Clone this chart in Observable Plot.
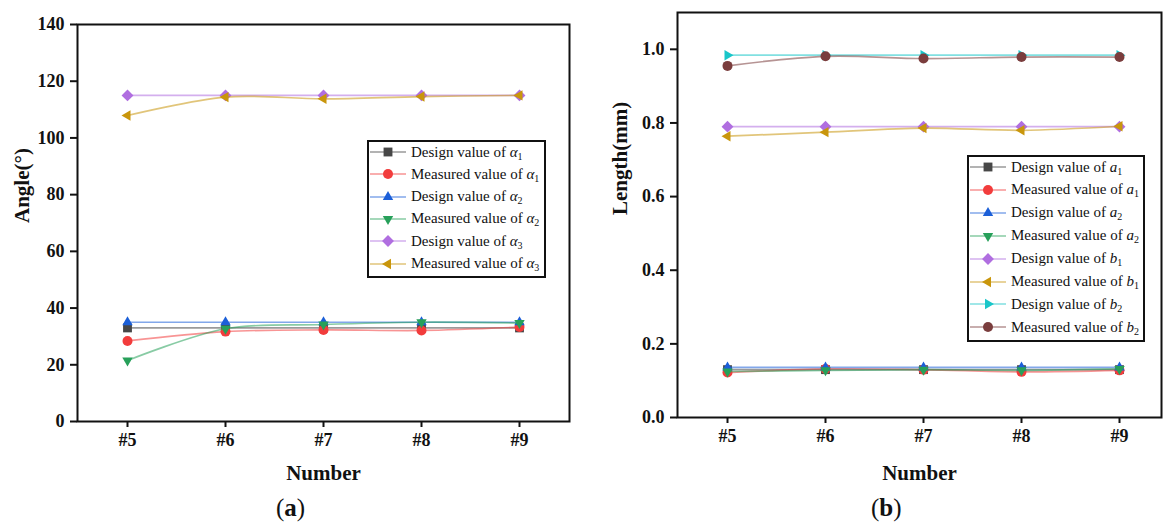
<!DOCTYPE html>
<html>
<head>
<meta charset="utf-8">
<script src="https://cdn.jsdelivr.net/npm/d3@7"></script>
<script src="https://cdn.jsdelivr.net/npm/@observablehq/plot@0.6"></script>
<style>
  html, body { margin: 0; padding: 0; background: #fff; }
  #root { position: relative; width: 1163px; height: 528px; overflow: hidden; background: #fff; font-family: "Liberation Serif", "DejaVu Serif", serif; }
  .panel { position: absolute; top: 0; }
  .panel svg { max-width: none !important; }
  .panel svg, .panel svg text, .panel svg g { font-family: "Liberation Serif", "DejaVu Serif", serif !important; }
  .legend { position: absolute; border: 2px solid #111; background: #fff; box-sizing: border-box; }
  .row { position: absolute; left: 0; height: 22px; display: flex; align-items: center; white-space: nowrap; font-size: 15px; color: #111; }
  .row svg { flex: none; }
  .row span.t { margin-left: 2px; }
  .row sub { font-size: 10px; vertical-align: -3px; line-height: 0; }
  .cap { position: absolute; font-size: 25px; color: #111; }
</style>
</head>
<body>
<div id="root"></div>
<script>
// ---------- data ----------
const numbers = ["#5", "#6", "#7", "#8", "#9"];

// panel (a): angles (degrees)
const designAlpha1   = [33, 33, 33, 33, 33];
const measuredAlpha1 = [28.4, 31.7, 32.3, 32.1, 33.3];
const designAlpha2   = [35, 35, 35, 35, 35];
const measuredAlpha2 = [21.5, 32.7, 34.2, 35.0, 34.7];
const designAlpha3   = [115, 115, 115, 115, 115];
const measuredAlpha3 = [107.9, 114.4, 113.8, 114.6, 115.0];

const angleNames   = ["Design value of", "Measured value of", "Design value of", "Measured value of", "Design value of", "Measured value of"];
const angleSymbols = ["α", "α", "α", "α", "α", "α"];
const angleSubs    = ["1", "1", "2", "2", "3", "3"];
const angleTicks   = [0, 20, 40, 60, 80, 100, 120, 140];

// panel (b): lengths (mm)
const designA1   = [0.130, 0.130, 0.130, 0.130, 0.130];
const measuredA1 = [0.122, 0.132, 0.130, 0.124, 0.128];
const designA2   = [0.136, 0.136, 0.136, 0.136, 0.136];
const measuredA2 = [0.125, 0.128, 0.130, 0.128, 0.132];
const designB1   = [0.790, 0.790, 0.790, 0.790, 0.790];
const measuredB1 = [0.764, 0.775, 0.786, 0.780, 0.791];
const designB2   = [0.984, 0.984, 0.984, 0.984, 0.984];
const measuredB2 = [0.955, 0.981, 0.975, 0.979, 0.979];

const lengthNames   = ["Design value of", "Measured value of", "Design value of", "Measured value of", "Design value of", "Measured value of", "Design value of", "Measured value of"];
const lengthSymbols = ["a", "a", "a", "a", "b", "b", "b", "b"];
const lengthSubs    = ["1", "1", "2", "2", "1", "1", "2", "2"];
const lengthTicks   = [0, 0.2, 0.4, 0.6, 0.8, 1.0];

// ---------- styles ----------
const colors = ["#474747", "#f23c3c", "#1b5fd8", "#27a05a", "#b06ee0", "#c9960c", "#19c6c9", "#7a3d3d"];

function tri(angle) {
  return {
    draw(ctx, size) {
      const r = Math.sqrt(size / Math.PI) * 1.2;
      for (let k = 0; k < 3; k++) {
        const a = angle + k * 2 * Math.PI / 3;
        const x = r * Math.cos(a), y = r * Math.sin(a);
        if (k === 0) ctx.moveTo(x, y); else ctx.lineTo(x, y);
      }
      ctx.closePath();
    }
  };
}
const diamond = {
  draw(ctx, size) {
    const h = Math.sqrt(size / 2) * 0.95;
    ctx.moveTo(0, -h); ctx.lineTo(h, 0); ctx.lineTo(0, h); ctx.lineTo(-h, 0); ctx.closePath();
  }
};
const square = {
  draw(ctx, size) {
    const s = Math.sqrt(size) * 0.5;
    ctx.rect(-s, -s, 2 * s, 2 * s);
  }
};
const symbols = [square, d3.symbolCircle, tri(-Math.PI / 2), tri(Math.PI / 2), diamond, tri(Math.PI), tri(0), d3.symbolCircle];

const root = d3.select("#root");
const serif = "Liberation Serif";

function makePanel(opts) {
  const {left, width, marginLeft, marginRight, marginTop, axisY, xRange, yDomain, yTicks, yFormat, series, ylabel, ylabelDx, xlabelDy} = opts;
  const height = 490;
  const rows = [];
  series.forEach((vals, i) => vals.forEach((v, j) => rows.push({s: i, x: numbers[j], y: v})));
  const marks = [];
  series.forEach((vals, i) => {
    const d = rows.filter(r => r.s === i);
    marks.push(Plot.line(d, {x: "x", y: "y", stroke: colors[i], strokeWidth: 1.7, strokeOpacity: 0.55, curve: "catmull-rom"}));
    marks.push(Plot.dot(d, {x: "x", y: "y", fill: colors[i], stroke: "none", r: 5, symbol: () => symbols[i]}));
  });
  const chart = Plot.plot({
    width, height,
    marginLeft, marginRight, marginTop, marginBottom: height - axisY,
    style: {fontFamily: serif, fontWeight: "bold", fontSize: "18px", background: "transparent", overflow: "visible", color: "#111"},
    x: {type: "point", domain: numbers, range: xRange, padding: 0},
    y: {domain: yDomain},
    marks: [
      ...marks,
      Plot.frame({stroke: "#111", strokeWidth: 2}),
      Plot.axisY({ticks: yTicks, tickFormat: yFormat, tickSize: 7, tickPadding: 6, label: null, strokeWidth: 2, fontSize: 18, fontWeight: "bold", fontFamily: serif}),
      Plot.axisX({tickSize: 6, tickPadding: 6, label: null, strokeWidth: 2, fontSize: 18, fontWeight: "bold", fontFamily: serif}),
      Plot.text(["Number"], {frameAnchor: "bottom", dy: xlabelDy, text: d => d, fontSize: 21, fontWeight: "bold", fontFamily: serif, lineAnchor: "middle"}),
      Plot.text([ylabel], {frameAnchor: "left", dx: ylabelDx, rotate: -90, text: d => d, fontSize: 21, fontWeight: "bold", fontFamily: serif, lineAnchor: "middle"})
    ]
  });
  root.append("div").attr("class", "panel").style("left", left + "px").node().appendChild(chart);
}

function makeLegend(opts) {
  const {left, top, w, h, names, syms, subs, pitch, first} = opts;
  const box = root.append("div").attr("class", "legend")
    .style("left", left + "px").style("top", top + "px")
    .style("width", w + "px").style("height", h + "px");
  names.forEach((name, i) => {
    const row = box.append("div").attr("class", "row").style("top", (first + i * pitch - 11 - 2) + "px");
    const svg = row.append("svg").attr("width", 40).attr("height", 22);
    svg.append("line").attr("x1", 1).attr("x2", 37).attr("y1", 11).attr("y2", 11)
      .attr("stroke", colors[i]).attr("stroke-width", 1.7).attr("stroke-opacity", 0.55);
    svg.append("path").attr("transform", "translate(19,11)")
      .attr("d", d3.symbol().type(symbols[i]).size(Math.PI * 25)())
      .attr("fill", colors[i]);
    const t = row.append("span").attr("class", "t");
    t.append("span").text(name + " ");
    t.append("i").text(syms[i]);
    t.append("sub").text(subs[i]);
  });
}

makePanel({
  left: 0, width: 580, marginLeft: 77, marginRight: 11, marginTop: 24, axisY: 421,
  xRange: [126, 520],
  yDomain: [0, 140], yTicks: angleTicks, yFormat: d3.format("d"),
  series: [designAlpha1, measuredAlpha1, designAlpha2, measuredAlpha2, designAlpha3, measuredAlpha3],
  ylabel: "Angle(°)", ylabelDx: -55, xlabelDy: 52
});
makePanel({
  left: 580, width: 583, marginLeft: 97, marginRight: 2, marginTop: 12, axisY: 417,
  xRange: [147, 539],
  yDomain: [0, 1.1], yTicks: lengthTicks, yFormat: d3.format(".1f"),
  series: [designA1, measuredA1, designA2, measuredA2, designB1, measuredB1, designB2, measuredB2],
  ylabel: "Length(mm)", ylabelDx: -57, xlabelDy: 56
});

makeLegend({left: 367, top: 140, w: 179, h: 138, names: angleNames, syms: angleSymbols, subs: angleSubs, pitch: 22.3, first: 12});
makeLegend({left: 967, top: 155, w: 178, h: 187, names: lengthNames, syms: lengthSymbols, subs: lengthSubs, pitch: 22.9, first: 12});

root.append("div").attr("class", "cap").style("left", "276px").style("top", "494px").html("(<b>a</b>)");
root.append("div").attr("class", "cap").style("left", "871px").style("top", "494px").html("(<b>b</b>)");
</script>
</body>
</html>
